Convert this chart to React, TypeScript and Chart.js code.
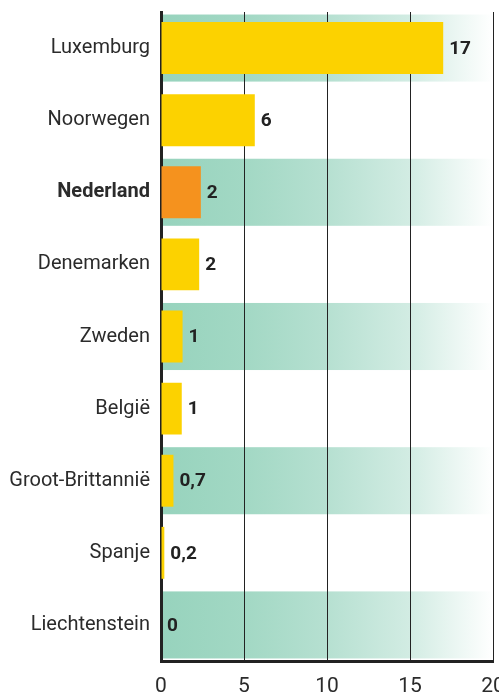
import React, { useEffect, useRef } from "react";
import { Chart, registerables } from "chart.js";

Chart.register(...registerables);

const countries = [
  "Luxemburg",
  "Noorwegen",
  "Nederland",
  "Denemarken",
  "Zweden",
  "België",
  "Groot-Brittannië",
  "Spanje",
  "Liechtenstein",
];
const values = [17, 5.65, 2.4, 2.3, 1.3, 1.25, 0.75, 0.2, 0];
const valueLabels = ["17", "6", "2", "2", "1", "1", "0,7", "0,2", "0"];
const highlight = "Nederland";
const xTicks = [0, 5, 10, 15, 20];

const FONT = "Roboto, 'Liberation Sans', sans-serif";

const bandsPlugin = {
  id: "bands",
  beforeDraw(chart: any) {
    const { ctx, chartArea, scales } = chart;
    const y = scales.y;
    const x = scales.x;
    const left = x.getPixelForValue(0);
    const right = x.getPixelForValue(20);
    const pitch = (chartArea.bottom - chartArea.top) / countries.length;
    const h = pitch * 0.93;
    ctx.save();
    const g = ctx.createLinearGradient(left, 0, right, 0);
    g.addColorStop(0, "#97d3bd");
    g.addColorStop(0.25, "#a2d8c4");
    g.addColorStop(0.5, "#b6e0d1");
    g.addColorStop(0.75, "#d2ece3");
    g.addColorStop(1, "#ffffff");
    ctx.fillStyle = g;
    countries.forEach((_, i) => {
      if (i % 2 === 0) {
        const c = y.getPixelForValue(i);
        ctx.fillRect(left, c - h / 2, right - left - 1, h);
      }
    });
    ctx.restore();
  },
};

const valueLabelPlugin = {
  id: "valueLabels",
  afterDatasetsDraw(chart: any) {
    const { ctx } = chart;
    const meta = chart.getDatasetMeta(0);
    ctx.save();
    ctx.font = `bold 19px ${FONT}`;
    ctx.fillStyle = "#222222";
    ctx.textAlign = "left";
    ctx.textBaseline = "middle";
    meta.data.forEach((bar: any, i: number) => {
      ctx.fillText(valueLabels[i], bar.x + 6, bar.y + 1);
    });
    ctx.restore();
  },
};

export default function App() {
  const ref = useRef<HTMLCanvasElement>(null);
  useEffect(() => {
    if (!ref.current) return;
    const chart = new Chart(ref.current, {
      type: "bar",
      data: {
        labels: countries,
        datasets: [
          {
            data: values,
            backgroundColor: countries.map((c) => (c === highlight ? "#f5921e" : "#fcd200")),
            borderWidth: 0,
            barPercentage: 0.72,
            categoryPercentage: 1,
          },
        ],
      },
      options: {
        indexAxis: "y",
        animation: false,
        responsive: false,
        maintainAspectRatio: false,
        layout: { padding: { top: 12, right: 6, left: 0, bottom: 0 } },
        plugins: { legend: { display: false }, tooltip: { enabled: false } },
        scales: {
          x: {
            min: 0,
            max: 20,
            afterBuildTicks: (s: any) => {
              s.ticks = xTicks.map((v) => ({ value: v }));
            },
            afterFit: (s: any) => {
              s.height = 38;
              s.paddingLeft = 0;
              s.paddingRight = 0;
            },
            grid: { color: "#222222", lineWidth: 1, drawTicks: false },
            border: { color: "#222222", width: 3 },
            ticks: {
              padding: 13,
              color: "#2b2b2b",
              maxRotation: 0,
              font: { family: FONT, size: 21 },
            },
          },
          y: {
            afterFit: (s: any) => {
              s.width = 161;
              s.paddingTop = 0;
              s.paddingBottom = 0;
            },
            grid: { display: false, drawTicks: false },
            border: { color: "#222222", width: 3 },
            ticks: {
              padding: 11,
              color: "#2b2b2b",
              font: (ctx: any) => ({
                family: FONT,
                size: 20,
                weight: countries[ctx.index] === highlight ? "bold" : "normal",
              }),
            },
          },
        },
      },
      plugins: [bandsPlugin, valueLabelPlugin],
    });
    return () => chart.destroy();
  }, []);
  return (
    <div style={{ position: "absolute", left: 0, top: 0, width: 499, height: 699, overflow: "hidden" }}>
      <canvas ref={ref} width={499} height={699} style={{ width: 499, height: 699 }} />
    </div>
  );
}
